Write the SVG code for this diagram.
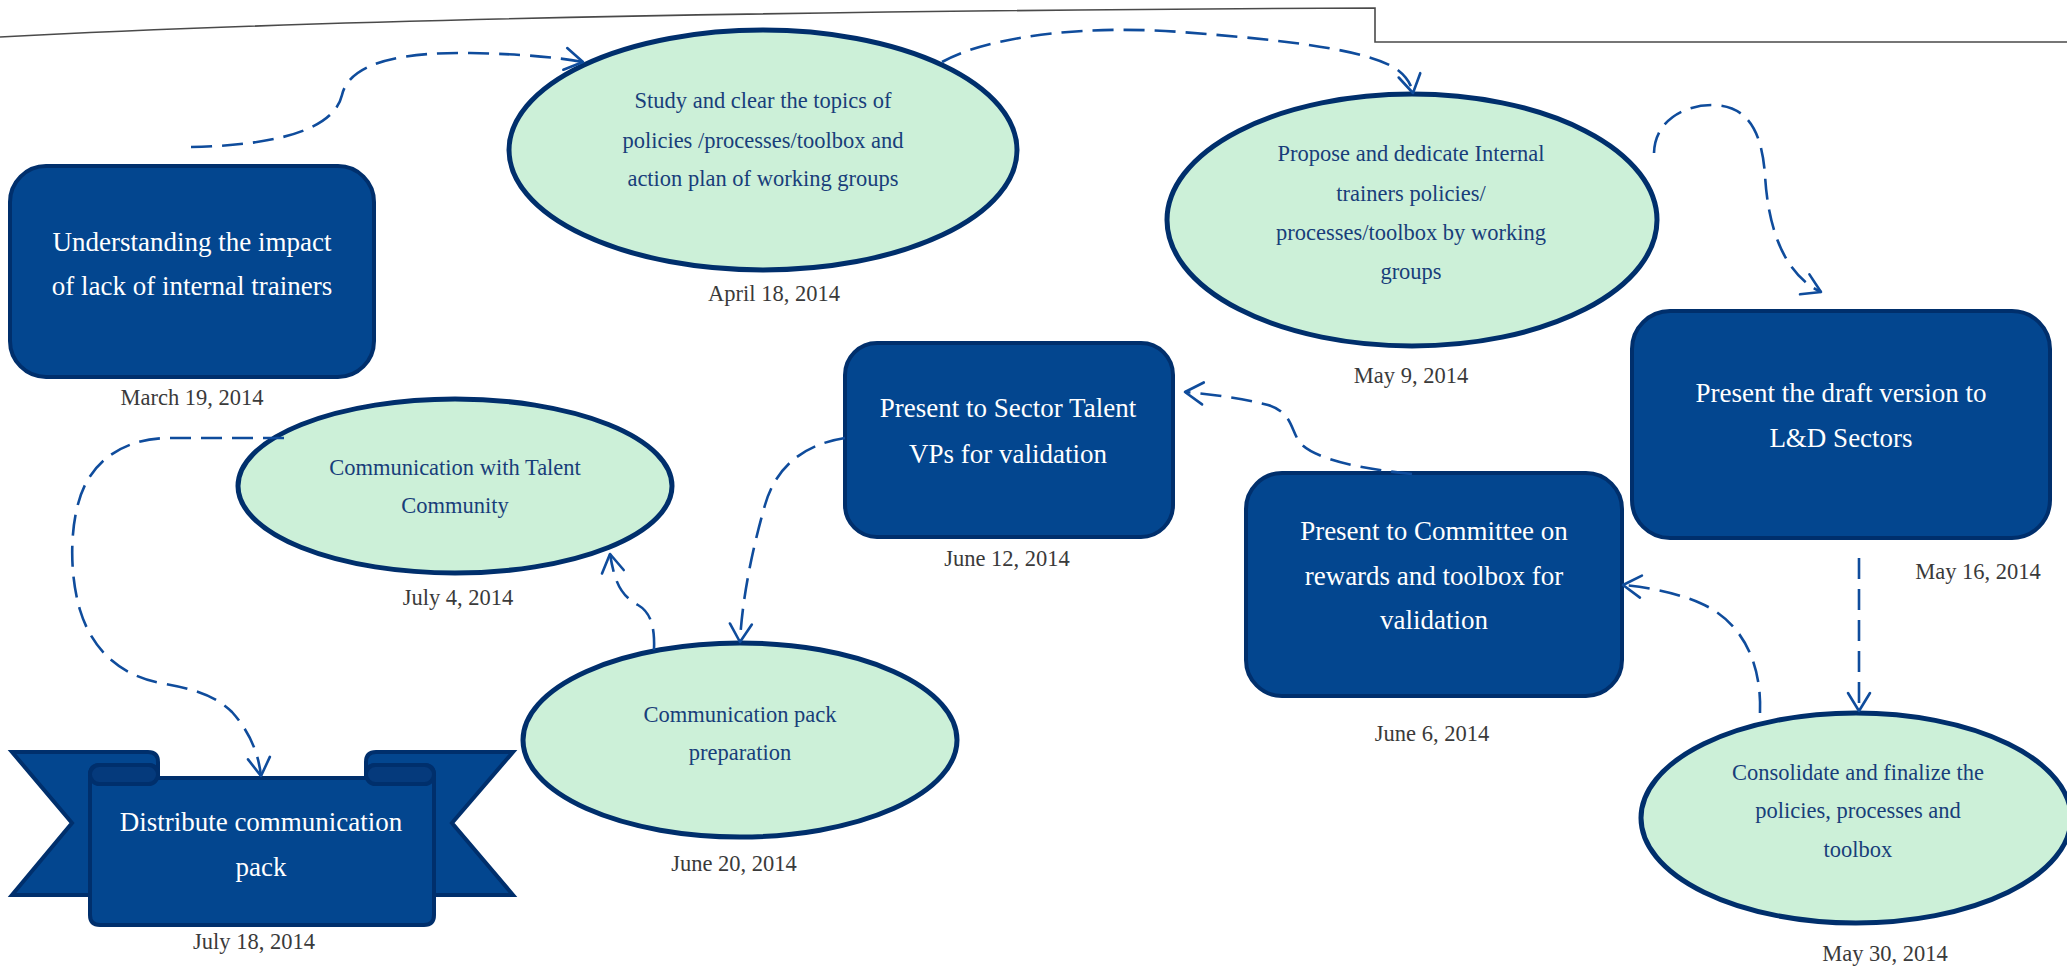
<svg xmlns="http://www.w3.org/2000/svg" width="2067" height="967" viewBox="0 0 2067 967">
  <style>
    .box { fill: #03468F; stroke: #002F6C; stroke-width: 4; }
    .oval { fill: #CCF0D8; stroke: #002F6C; stroke-width: 5; }
    .boxtext { font-family: "Liberation Serif", "DejaVu Serif", serif; font-size: 27px; fill: #FFFFFF; text-anchor: middle; }
    .ovaltext { font-family: "Liberation Serif", "DejaVu Serif", serif; font-size: 22.5px; fill: #183E7A; text-anchor: middle; }
    .date { font-family: "Liberation Serif", "DejaVu Serif", serif; font-size: 22.5px; fill: #3A3A3A; text-anchor: middle; }
    .link { fill: none; stroke: #0F4C9C; stroke-width: 2.6; stroke-dasharray: 21 10; }
    .roll { fill: #053A7C; stroke: #002F6C; stroke-width: 4; }
  </style>
  <defs>
    <marker id="arrow" markerWidth="24" markerHeight="26" refX="20" refY="13" orient="auto" markerUnits="userSpaceOnUse">
      <path d="M2,2 L20,13 L2,24" fill="none" stroke="#0F4C9C" stroke-width="2.6" stroke-linecap="round" stroke-linejoin="round"/>
    </marker>
  </defs>

  <rect x="0" y="0" width="2067" height="967" fill="#FFFFFF"/>

  <!-- header rule -->
  <path d="M0,37 Q470,12 1375,8 V42 H2067" fill="none" stroke="#4A4A4A" stroke-width="1.6"/>

  <g id="node-understanding">
    <rect class="box" x="10" y="166" width="364" height="211" rx="36"/>
    <text class="boxtext" x="192" y="251">Understanding the impact</text>
    <text class="boxtext" x="192" y="295">of lack of internal trainers</text>
    <text class="date" x="192" y="405">March 19, 2014</text>
  </g>

  <g id="node-study">
    <ellipse class="oval" cx="763" cy="150" rx="254" ry="120"/>
    <text class="ovaltext" x="763" y="108">Study and clear the topics of</text>
    <text class="ovaltext" x="763" y="148">policies /processes/toolbox and</text>
    <text class="ovaltext" x="763" y="186">action plan of working groups</text>
    <text class="date" x="774" y="301">April 18, 2014</text>
  </g>

  <g id="node-propose">
    <ellipse class="oval" cx="1412" cy="220" rx="245" ry="126"/>
    <text class="ovaltext" x="1411" y="161">Propose and dedicate Internal</text>
    <text class="ovaltext" x="1411" y="201">trainers policies/</text>
    <text class="ovaltext" x="1411" y="240">processes/toolbox by working</text>
    <text class="ovaltext" x="1411" y="279">groups</text>
    <text class="date" x="1411" y="383">May 9, 2014</text>
  </g>

  <g id="node-draft">
    <rect class="box" x="1632" y="311" width="418" height="227" rx="38"/>
    <text class="boxtext" x="1841" y="402">Present the draft version to</text>
    <text class="boxtext" x="1841" y="447">L&amp;D Sectors</text>
    <text class="date" x="1978" y="579">May 16, 2014</text>
  </g>

  <g id="node-consolidate">
    <ellipse class="oval" cx="1856" cy="818" rx="215" ry="105"/>
    <text class="ovaltext" x="1858" y="780">Consolidate and finalize the</text>
    <text class="ovaltext" x="1858" y="818">policies, processes and</text>
    <text class="ovaltext" x="1858" y="857">toolbox</text>
    <text class="date" x="1885" y="961">May 30, 2014</text>
  </g>

  <g id="node-committee">
    <rect class="box" x="1246" y="473" width="376" height="223" rx="36"/>
    <text class="boxtext" x="1434" y="540">Present to Committee on</text>
    <text class="boxtext" x="1434" y="585">rewards and toolbox for</text>
    <text class="boxtext" x="1434" y="629">validation</text>
    <text class="date" x="1432" y="741">June 6, 2014</text>
  </g>

  <g id="node-sector">
    <rect class="box" x="845" y="343" width="328" height="194" rx="32"/>
    <text class="boxtext" x="1008" y="417">Present to Sector Talent</text>
    <text class="boxtext" x="1008" y="463">VPs for validation</text>
    <text class="date" x="1007" y="566">June 12, 2014</text>
  </g>

  <g id="node-pack">
    <ellipse class="oval" cx="740" cy="740" rx="217" ry="97"/>
    <text class="ovaltext" x="740" y="722">Communication pack</text>
    <text class="ovaltext" x="740" y="760">preparation</text>
    <text class="date" x="734" y="871">June 20, 2014</text>
  </g>

  <g id="node-talent">
    <ellipse class="oval" cx="455" cy="486" rx="217" ry="87"/>
    <text class="ovaltext" x="455" y="475">Communication with Talent</text>
    <text class="ovaltext" x="455" y="513">Community</text>
    <text class="date" x="458" y="605">July 4, 2014</text>
  </g>

  <g id="node-distribute">
    <path class="box" d="M12,752 H148 Q158,752 158,762 V895 H12 L72,823 Z"/>
    <path class="box" d="M513,752 H376 Q366,752 366,762 V895 H513 L452,823 Z"/>
    <path class="box" d="M90,775 Q90,765 100,765 H148 Q158,765 158,775 V778 H366 V775 Q366,765 376,765 H424 Q434,765 434,775 V915 Q434,925 424,925 H100 Q90,925 90,915 Z"/>
    <rect class="roll" x="90" y="765" width="68" height="19" rx="9.5"/>
    <rect class="roll" x="366" y="765" width="68" height="19" rx="9.5"/>
    <path d="M90,776 V915" fill="none" stroke="#002F6C" stroke-width="4"/>
    <path d="M434,776 V915" fill="none" stroke="#002F6C" stroke-width="4"/>
    <text class="boxtext" x="261" y="831">Distribute communication</text>
    <text class="boxtext" x="261" y="876">pack</text>
    <text class="date" x="254" y="949">July 18, 2014</text>
  </g>

  <!-- dashed connectors, drawn over the shapes they join -->
  <g id="connectors">
    <path class="link" marker-end="url(#arrow)" d="M191,147 C290,145 335,125 342,95 C350,60 410,52 470,53 C520,54 555,57 583,62"/>
    <path class="link" marker-end="url(#arrow)" d="M942,62 C990,35 1090,25 1180,32 C1290,40 1365,50 1395,68 C1405,75 1411,83 1413,93"/>
    <path class="link" marker-end="url(#arrow)" d="M1654,153 C1655,120 1685,105 1712,105 C1750,105 1762,135 1765,175 C1768,230 1785,275 1821,292"/>
    <path class="link" marker-end="url(#arrow)" d="M1859,558 L1859,711"/>
    <path class="link" marker-end="url(#arrow)" d="M1760,713 C1762,660 1740,620 1700,603 C1675,592 1645,587 1623,585"/>
    <path class="link" marker-end="url(#arrow)" d="M1412,474 C1370,470 1310,460 1298,440 C1290,425 1290,412 1268,405 C1240,398 1210,394 1185,392"/>
    <path class="link" marker-end="url(#arrow)" d="M845,438 C800,445 775,470 765,505 C752,550 742,600 740,642"/>
    <path class="link" marker-end="url(#arrow)" d="M654,650 C655,625 650,612 638,605 C622,596 615,585 610,554"/>
    <path class="link" marker-end="url(#arrow)" d="M284,438 L170,438 C130,438 100,455 85,485 C70,515 68,570 80,610 C92,650 120,675 160,683 C190,688 215,695 232,712 C248,730 258,750 261,776"/>
  </g>
</svg>
